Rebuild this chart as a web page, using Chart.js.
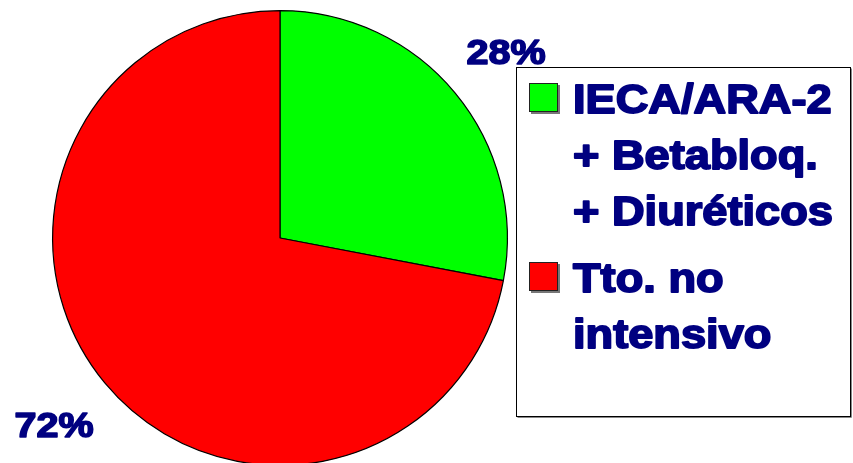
<!DOCTYPE html>
<html>
<head>
<meta charset="utf-8">
<script src="https://cdn.jsdelivr.net/npm/chart.js@4/dist/chart.umd.min.js"></script>
<style>
  html, body { margin: 0; padding: 0; background: #fff; overflow: hidden; }
  #wrap { width: 853px; height: 463px; overflow: hidden; position: relative; }
  canvas { display: block; }
</style>
</head>
<body>
<div id="wrap"><canvas id="c" width="853" height="480"></canvas></div>
<script>
// Treatment groups and their share of patients (%)
const categories = [
  ['IECA/ARA-2', '+ Betabloq.', '+ Diuréticos'],
  ['Tto. no', 'intensivo']
];
const shares = [28, 72];
const sliceColors = ['#00FF00', '#FF0000'];

const NAVY = '#000080';
const FONT = '"Liberation Sans", Arial, Helvetica, sans-serif';
const STRETCH = 1.13; // wide heavy lettering

function drawWideText(ctx, text, x, y, size, align) {
  ctx.save();
  ctx.font = 'bold ' + size + 'px ' + FONT;
  ctx.textBaseline = 'alphabetic';
  const w = ctx.measureText(text).width * STRETCH;
  let left = x;
  if (align === 'center') left = x - w / 2;
  ctx.translate(left, y);
  ctx.scale(STRETCH, 1);
  ctx.textAlign = 'left';
  ctx.fillStyle = NAVY;
  ctx.strokeStyle = NAVY;
  ctx.lineJoin = 'round';
  ctx.lineWidth = size * 0.045;
  ctx.fillText(text, 0, 0);
  ctx.strokeText(text, 0, 0);
  ctx.restore();
}

// Percentage labels placed outside each slice along its mid angle
const percentLabels = {
  id: 'percentLabels',
  afterDatasetsDraw(chart) {
    const ctx = chart.ctx;
    const meta = chart.getDatasetMeta(0);
    meta.data.forEach((arc, i) => {
      const p = arc.getProps(['x', 'y', 'startAngle', 'endAngle', 'outerRadius'], true);
      const mid = (p.startAngle + p.endAngle) / 2;
      const r = p.outerRadius * 1.29;
      const cx = p.x + Math.cos(mid) * r;
      const cy = p.y + Math.sin(mid) * r;
      drawWideText(ctx, chart.data.datasets[0].data[i] + '%', cx, cy + 12.5, 35, 'center');
    });
  }
};

// Boxed legend on the right
const boxLegend = {
  id: 'boxLegend',
  afterDraw(chart) {
    const ctx = chart.ctx;
    const bx = 516.5, by = 67.5, bw = 334, bh = 349;
    ctx.save();
    // soft shadow on right and bottom edge
    ctx.strokeStyle = '#888';
    ctx.lineWidth = 1;
    ctx.beginPath();
    ctx.moveTo(bx + bw + 1, by + 1);
    ctx.lineTo(bx + bw + 1, by + bh + 1);
    ctx.lineTo(bx + 1, by + bh + 1);
    ctx.stroke();
    ctx.fillStyle = '#fff';
    ctx.fillRect(bx, by, bw, bh);
    ctx.strokeStyle = '#000';
    ctx.strokeRect(bx, by, bw, bh);

    const itemTops = [113, 292];
    const lineGap = 56;
    chart.data.labels.forEach((lines, i) => {
      const base = itemTops[i];
      // swatch
      ctx.fillStyle = '#777';
      ctx.fillRect(531, base - 28, 29, 29);
      ctx.fillStyle = chart.data.datasets[0].backgroundColor[i];
      ctx.fillRect(529.5, base - 29.5, 28, 28);
      ctx.strokeStyle = '#222';
      ctx.lineWidth = 1;
      ctx.strokeRect(529.5, base - 29.5, 28, 28);
      lines.forEach((t, j) => {
        drawWideText(ctx, t, 573, base + j * lineGap, 40, 'left');
      });
    });
    ctx.restore();
  }
};

new Chart(document.getElementById('c'), {
  type: 'pie',
  data: {
    labels: categories,
    datasets: [{
      data: shares,
      backgroundColor: sliceColors,
      borderColor: '#000',
      borderWidth: 1.2
    }]
  },
  options: {
    responsive: false,
    animation: false,
    layout: { padding: { left: 52, top: 10, right: 345, bottom: 14 } },
    plugins: {
      legend: { display: false },
      tooltip: { enabled: false }
    }
  },
  plugins: [percentLabels, boxLegend]
});
</script>
</body>
</html>
